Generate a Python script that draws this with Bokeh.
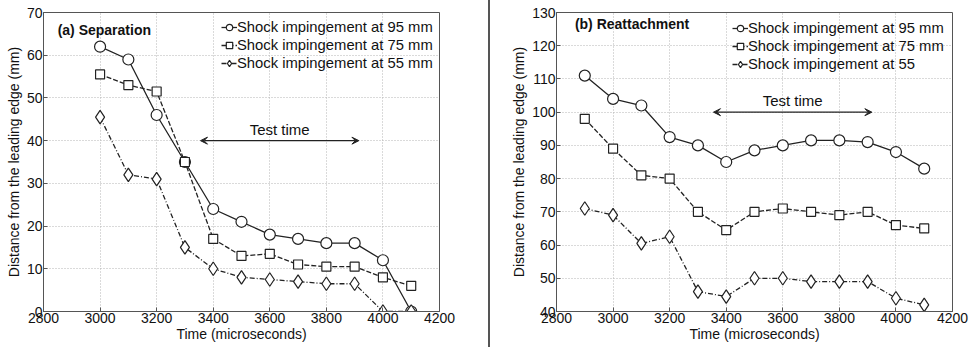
from bokeh.plotting import figure
from bokeh.models import (LinearAxis, Label, Arrow, VeeHead, Legend, LegendItem,
                          Div, FixedTicker, Range1d)
from bokeh.layouts import row
from bokeh.embed import file_html
from bokeh.resources import INLINE

# ---------------- data ----------------
time_a = [3000, 3100, 3200, 3300, 3400, 3500, 3600, 3700, 3800, 3900, 4000, 4100]
sep_95 = [62, 59, 46, 35, 24, 21, 18, 17, 16, 16, 12, 0]
sep_75 = [55.5, 53, 51.5, 35, 17, 13, 13.5, 11, 10.5, 10.5, 8, 6]
sep_55 = [45.5, 32, 31, 15, 10, 8, 7.5, 7, 6.5, 6.5, 0, 0]

time_b = [2900, 3000, 3100, 3200, 3300, 3400, 3500, 3600, 3700, 3800, 3900, 4000, 4100]
rea_95 = [111, 104, 102, 92.5, 90, 85, 88.5, 90, 91.5, 91.5, 91, 88, 83]
rea_75 = [98, 89, 81, 80, 70, 64.5, 70, 71, 70, 69, 70, 66, 65]
rea_55 = [71, 69, 60.5, 62.5, 46, 44.5, 50, 50, 49, 49, 49, 44, 42]

x_ticks = [2800, 3000, 3200, 3400, 3600, 3800, 4000, 4200]
y_ticks_a = [0, 10, 20, 30, 40, 50, 60, 70]
y_ticks_b = [40, 50, 60, 70, 80, 90, 100, 110, 120, 130]

labels_a = ["Shock impingement at 95 mm", "Shock impingement at 75 mm", "Shock impingement at 55 mm"]
labels_b = ["Shock impingement at 95 mm", "Shock impingement at 75 mm", "Shock impingement at 55"]

test_time_start, test_time_end = 3355, 3915
test_time_y_a, test_time_y_b = 40, 100

FONT = "Liberation Sans"
AX = "#555555"
TXT = "#111111"


def style_axis(ax):
    ax.major_tick_in = 4
    ax.major_tick_out = 0
    ax.minor_tick_in = 0
    ax.minor_tick_out = 0
    ax.axis_line_color = AX
    ax.major_tick_line_color = AX
    ax.major_label_text_font = FONT
    ax.major_label_text_color = TXT
    ax.major_label_text_font_size = "14px"
    ax.major_label_standoff = 1
    ax.axis_label_text_font = FONT
    ax.axis_label_text_font_style = "normal"
    ax.axis_label_text_font_size = "14px"
    ax.axis_label_text_color = TXT


def make_panel(width, bl, br, bt, bb, xs, ys_list, y_range, y_ticks, labels,
               title, arrow_y, legend_xy, title_xy):
    p = figure(width=width, height=347, output_backend="svg", toolbar_location=None,
               x_range=Range1d(2800, 4200), y_range=Range1d(*y_range),
               min_border_left=bl, min_border_right=br, min_border_top=bt,
               min_border_bottom=bb, x_axis_location=None, y_axis_location=None)
    p.outline_line_color = AX
    p.outline_line_width = 1
    p.background_fill_color = "white"
    p.border_fill_color = "white"

    xb = LinearAxis(ticker=FixedTicker(ticks=x_ticks), axis_label="Time (microseconds)")
    style_axis(xb)
    xb.axis_label_standoff = 0
    p.add_layout(xb, "below")
    yl = LinearAxis(ticker=FixedTicker(ticks=y_ticks),
                    axis_label="Distance from the leading edge (mm)")
    style_axis(yl)
    yl.axis_label_standoff = 2
    p.add_layout(yl, "left")

    p.xgrid.ticker = FixedTicker(ticks=x_ticks)
    p.ygrid.ticker = FixedTicker(ticks=y_ticks)
    for g in (p.xgrid, p.ygrid):
        g.grid_line_color = "#b5b5b5"
        g.grid_line_dash = "1 2"
        g.grid_line_width = 1

    dashes = ["solid", "5 2", "5 2 1 2"]
    markers = ["circle", "square", "diamond"]
    sizes = [11, 9, 13.5]
    items = []
    for ys, dash, mk, sz, lab in zip(ys_list, dashes, markers, sizes, labels):
        ln = p.line(xs, ys, line_color="#222222", line_width=1.3, line_dash=dash)
        sc = p.scatter(xs, ys, marker=mk, size=sz, fill_color="white",
                       line_color="#222222", line_width=1.2)
        items.append(LegendItem(label=lab, renderers=[ln, sc]))

    leg = Legend(items=items, location=legend_xy, border_line_color=None,
                 background_fill_alpha=0, padding=0, margin=0, spacing=0,
                 glyph_width=16, glyph_height=18, label_height=18,
                 label_standoff=0, label_text_font=FONT,
                 label_text_font_size="14.8px", label_text_color=TXT)
    p.add_layout(leg, "center")

    p.add_layout(Label(x=title_xy[0], y=title_xy[1], text=title, text_font=FONT,
                       text_font_style="bold", text_font_size="14px",
                       text_color=TXT, text_baseline="middle"))
    p.add_layout(Arrow(x_start=test_time_start, y_start=arrow_y,
                       x_end=test_time_end, y_end=arrow_y,
                       start=VeeHead(size=7, fill_color="#222222", line_color="#222222"),
                       end=VeeHead(size=7, fill_color="#222222", line_color="#222222"),
                       line_color="#222222", line_width=1.4))
    p.add_layout(Label(x=(test_time_start + test_time_end) / 2, y=arrow_y,
                       text="Test time", text_font=FONT, text_font_size="15px",
                       text_color=TXT, text_align="center",
                       text_baseline="bottom", y_offset=3))
    return p


p1 = make_panel(488, 43, 49, 11, 36, time_a, [sep_95, sep_75, sep_55], (0, 70),
                y_ticks_a, labels_a, "(a) Separation", test_time_y_a,
                (178, 239), (2850, 66))
p2 = make_panel(483, 66, 21, 12, 36, time_b, [rea_95, rea_75, rea_55], (40, 130),
                y_ticks_b, labels_b, "(b) Reattachment", test_time_y_b,
                (176, 238), (2865, 126.5))

div = Div(text="", width=2, height=347,
          styles={"background-color": "#555555", "margin": "0", "padding": "0"})

layout = row(p1, div, p2, spacing=0)
open("out.html", "w").write(file_html(layout, INLINE))
